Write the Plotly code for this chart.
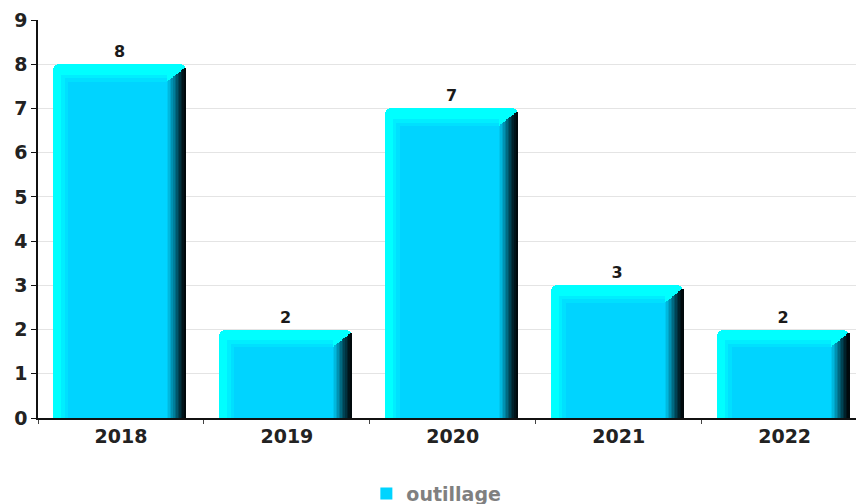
import plotly.graph_objects as go

categories = ["2018", "2019", "2020", "2021", "2022"]
values = [8, 2, 7, 3, 2]
series_name = "outillage"
y_ticks = [0, 1, 2, 3, 4, 5, 6, 7, 8, 9]

FONT = "DejaVu Sans, Verdana, sans-serif"
BAR_OFF = -0.41
BAR_W = 0.80
TOP_D = 0.40      # top bevel depth (y units)
LEFT_D = 0.09     # left bevel width (x units)
RIGHT_D = 0.11    # right bevel width (x units)

fig = go.Figure()

# base (light cyan bevel) bar, with value labels
fig.add_trace(go.Bar(
    x=categories, y=values, offset=BAR_OFF, width=BAR_W,
    marker=dict(color="#00FFFF", line=dict(width=0), cornerradius=6),
    text=[str(v) for v in values], textposition="outside",
    textfont=dict(family=FONT, size=16, color="#1a1a1a", weight="bold"),
    cliponaxis=False, showlegend=False, hoverinfo="skip",
))
# soft transition between bevel and face
fig.add_trace(go.Bar(
    x=categories, y=[v - TOP_D * 0.6 for v in values],
    offset=BAR_OFF + LEFT_D * 0.55, width=BAR_W - LEFT_D * 0.55 - RIGHT_D,
    marker=dict(color="#00EEFF", line=dict(width=0)),
    showlegend=False, hoverinfo="skip",
))
fig.add_trace(go.Bar(
    x=categories, y=[v - TOP_D * 0.8 for v in values],
    offset=BAR_OFF + LEFT_D * 0.78, width=BAR_W - LEFT_D * 0.78 - RIGHT_D,
    marker=dict(color="#00E0FF", line=dict(width=0)),
    showlegend=False, hoverinfo="skip",
))
# main face
fig.add_trace(go.Bar(
    x=categories, y=[v - TOP_D for v in values],
    offset=BAR_OFF + LEFT_D, width=BAR_W - LEFT_D - RIGHT_D,
    marker=dict(color="#00D4FF", line=dict(width=0)),
    name=series_name, showlegend=True,
))
# right shaded bevel as gradient slices with mitred top
shade = ["#00C8F0", "#00B8DE", "#00A6CA", "#0092B2", "#007E9A", "#006A82",
         "#00566A", "#004354", "#00323F", "#00222B", "#00141A", "#00090C"]
n = len(shade)
sw = RIGHT_D / n
for i, c in enumerate(shade):
    top_cut = TOP_D - (TOP_D - 0.07) * (i + 0.5) / n
    fig.add_trace(go.Bar(
        x=categories, y=[v - top_cut for v in values],
        offset=BAR_OFF + BAR_W - RIGHT_D + i * sw, width=sw * 1.1,
        marker=dict(color=c, line=dict(width=0)),
        showlegend=False, hoverinfo="skip",
    ))

fig.update_layout(
    width=856, height=504,
    margin=dict(l=38, r=0, t=20, b=86, autoexpand=False),
    paper_bgcolor="white", plot_bgcolor="white",
    barmode="overlay", bargap=0,
    font=dict(family=FONT, size=14, color="#222222"),
    showlegend=True,
    legend=dict(orientation="h", x=0.487, xanchor="center", y=-0.19, yanchor="middle",
                font=dict(family=FONT, size=19, color="#808080", weight="bold"),
                itemwidth=30),
    xaxis=dict(
        type="category", range=[-0.5, 4.43], automargin=False,
        showline=True, linecolor="#111111", linewidth=1.5,
        ticks="outside", tickson="boundaries", ticklen=4, tickcolor="#444444",
        tickfont=dict(family=FONT, size=19, color="#222222", weight="bold"),
        showgrid=False,
    ),
    yaxis=dict(
        range=[0, 9], tickvals=y_ticks, automargin=False,
        showline=True, linecolor="#111111", linewidth=1.5,
        ticks="outside", ticklen=5, tickcolor="#111111",
        tickfont=dict(family=FONT, size=19, color="#222222", weight="bold"),
        showgrid=True, gridcolor="#E4E4E4", gridwidth=1, zeroline=False,
    ),
)

fig.write_html(
    "out.html",
    config={"displayModeBar": False},
    post_script="document.body.style.margin='0';document.body.style.overflow='hidden';",
)
